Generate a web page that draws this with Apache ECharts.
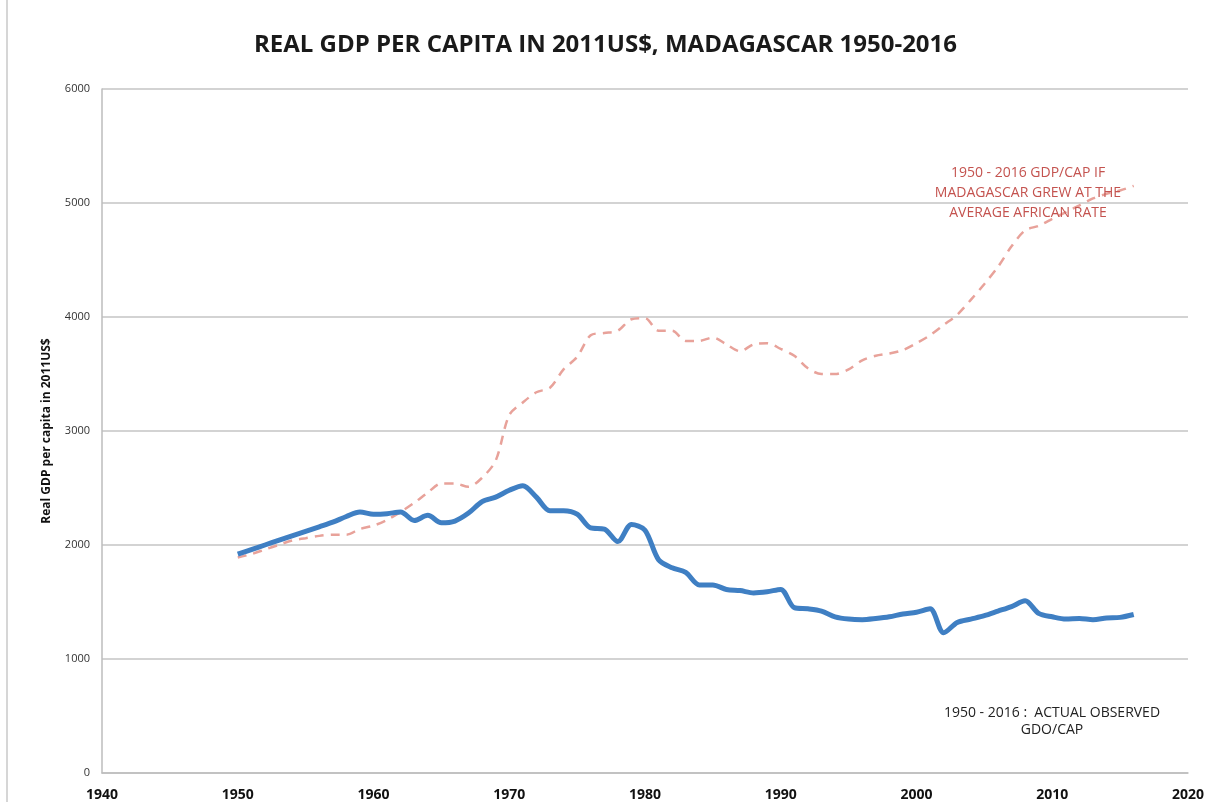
<!DOCTYPE html>
<html>
  <head>
    <meta charset="utf-8" />
    <title>Madagascar GDP per capita</title>
    <script src="https://cdn.jsdelivr.net/npm/echarts@6/dist/echarts.min.js"></script>
    <style>
      html, body { margin: 0; padding: 0; background: #fff; }
    </style>
  </head>
  <body>
    <div id="main" style="width: 1211px;height:802px;"></div>
    <script type="text/javascript">
      // data
      var years = [];
      for (var y = 1950; y <= 2016; y++) years.push(y);

      var actualGdp = [
        1920, 1960, 2000, 2040, 2080, 2120, 2160, 2200, 2250, 2290,
        2270, 2275, 2290, 2215, 2260, 2195, 2210, 2280, 2380, 2420,
        2480, 2520, 2420, 2300, 2300, 2270, 2150, 2140, 2030, 2180,
        2130, 1870, 1800, 1760, 1650, 1650, 1610, 1600, 1580, 1590,
        1610, 1450, 1440, 1420, 1370, 1350, 1345, 1355, 1370, 1395,
        1410, 1440, 1230, 1320, 1350, 1380, 1420, 1460, 1510, 1400,
        1370, 1350, 1355, 1345, 1360, 1365, 1390
      ];

      var africanRateGdp = [
        1890, 1920, 1960, 2000, 2040, 2060, 2080, 2090, 2090, 2140,
        2170, 2220, 2290, 2370, 2460, 2540, 2540, 2510, 2590, 2740,
        3140, 3250, 3340, 3380, 3540, 3650, 3840, 3860, 3880, 3980,
        3990, 3880, 3880, 3790, 3790, 3820, 3760, 3700, 3760, 3770,
        3720, 3660, 3550, 3500, 3500, 3540, 3620, 3660, 3680, 3710,
        3770, 3840, 3930, 4020, 4150, 4290, 4440, 4620, 4760, 4800,
        4860, 4920, 4980, 5040, 5080, 5110, 5150
      ];

      function pairs(vals) {
        return years.map(function (yr, i) { return [yr, vals[i]]; });
      }

      var myChart = echarts.init(document.getElementById('main'));

      var option = {
        backgroundColor: '#fff',
        animation: false,
        title: {
          text: 'REAL GDP PER CAPITA IN 2011US$, MADAGASCAR 1950-2016',
          left: 'center',
          top: 28,
          textStyle: {
            fontFamily: 'Open Sans',
            fontWeight: 'bold',
            fontSize: 24,
            color: '#1a1a1a'
          }
        },
        grid: {
          left: 102,
          right: 23,
          top: 89,
          bottom: 29
        },
        xAxis: {
          type: 'value',
          min: 1940,
          max: 2020,
          interval: 10,
          axisLine: { lineStyle: { color: '#bdbdbd', width: 1.5 } },
          axisTick: { show: false },
          splitLine: { show: false },
          axisLabel: {
            margin: 15,
            fontFamily: 'Open Sans',
            fontWeight: 'bold',
            fontSize: 14,
            color: '#111',
            formatter: function (v) { return String(v); }
          }
        },
        yAxis: {
          type: 'value',
          min: 0,
          max: 6000,
          interval: 1000,
          name: 'Real GDP per capita in 2011US$',
          nameLocation: 'middle',
          nameGap: 49,
          nameTextStyle: {
            fontFamily: 'Open Sans',
            fontWeight: 'bold',
            fontSize: 12,
            color: '#111'
          },
          axisLine: { show: true, lineStyle: { color: '#bdbdbd', width: 1.5 } },
          axisTick: { show: false },
          splitLine: { lineStyle: { color: '#c4c4c4', width: 1.5 } },
          axisLabel: {
            margin: 12,
            fontFamily: 'Open Sans',
            fontSize: 11,
            color: '#333',
            formatter: function (v) { return String(v); }
          }
        },
        series: [
          {
            name: 'If Madagascar grew at the average African rate',
            type: 'line',
            data: pairs(africanRateGdp),
            showSymbol: false,
            smooth: 0.3,
            lineStyle: { color: '#e8a29a', width: 2.5, type: [9, 7] },
            z: 2
          },
          {
            name: 'Actual observed',
            type: 'line',
            data: pairs(actualGdp),
            showSymbol: false,
            smooth: 0.3,
            lineStyle: { color: '#3f7fc3', width: 5 },
            z: 3
          }
        ],
        graphic: [
          {
            type: 'line',
            shape: { x1: 7, y1: 0, x2: 7, y2: 802 },
            style: { stroke: '#c8c8c8', lineWidth: 1.5 }
          },
          {
            type: 'text',
            x: 1028,
            y: 163,
            style: {
              text: '1950 - 2016 GDP/CAP IF\nMADAGASCAR GREW AT THE\nAVERAGE AFRICAN RATE',
              align: 'center',
              verticalAlign: 'top',
              fontFamily: 'Open Sans',
              fontSize: 14,
              lineHeight: 20,
              fill: '#c4534f'
            },
            z: 10
          },
          {
            type: 'text',
            x: 1052,
            y: 705,
            style: {
              text: '1950 - 2016 :  ACTUAL OBSERVED\nGDO/CAP',
              align: 'center',
              verticalAlign: 'top',
              fontFamily: 'Open Sans',
              fontSize: 14,
              lineHeight: 17,
              fill: '#222'
            },
            z: 10
          }
        ]
      };

      myChart.setOption(option);
    </script>
  </body>
</html>
